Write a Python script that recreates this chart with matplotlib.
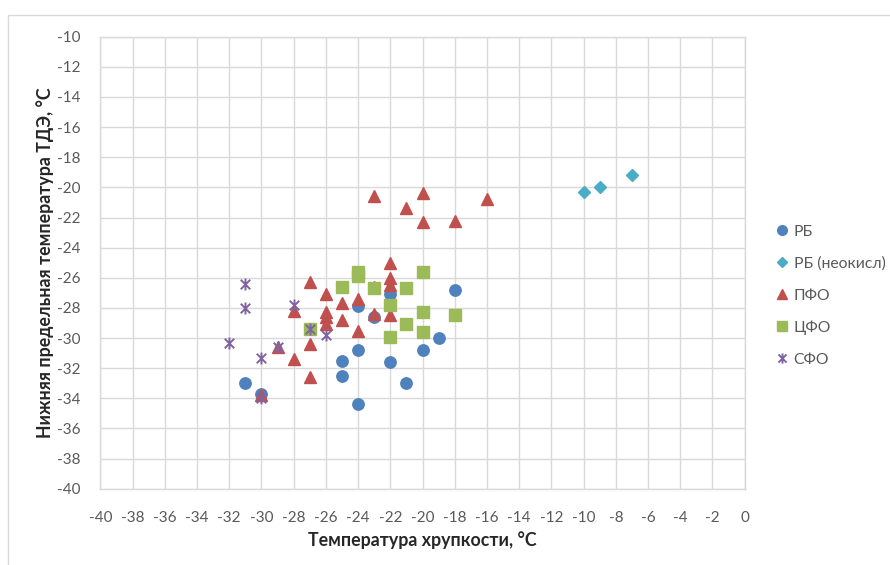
import matplotlib
matplotlib.use("Agg")
import matplotlib.pyplot as plt
from matplotlib.path import Path
from matplotlib.patches import Rectangle

plt.rcParams['font.family'] = ['Lato', 'Noto Sans', 'DejaVu Sans']
plt.rcParams['axes.unicode_minus'] = False

# РБ
rb_x = [-31, -30, -25, -25, -24, -24, -24, -23, -22, -22, -21, -20, -19, -18]
rb_y = [-33.0, -33.7, -31.5, -32.5, -27.9, -30.8, -34.4, -28.6, -27.1, -31.6, -33.0, -30.8, -30.0, -26.8]

# РБ (неокисл)
rbn_x = [-10, -9, -7]
rbn_y = [-20.3, -20.0, -19.2]

# ПФО
pfo_x = [-30, -29, -28, -28, -27, -27, -27, -26, -26, -26, -26, -25, -25, -24, -24,
         -23, -23, -22, -22, -22, -22, -23, -21, -20, -20, -18, -16]
pfo_y = [-33.8, -30.6, -28.2, -31.4, -26.3, -30.4, -32.6, -27.1, -28.3, -28.6, -29.1, -27.7, -28.8, -27.4, -29.5,
         -28.4, -26.6, -25.0, -26.0, -26.5, -28.5, -20.6, -21.4, -20.4, -22.3, -22.2, -20.8]

# ЦФО
cfo_x = [-27, -25, -24, -24, -23, -22, -22, -21, -21, -20, -20, -20, -18]
cfo_y = [-29.4, -26.6, -25.6, -25.9, -26.7, -27.8, -29.9, -26.7, -29.1, -25.6, -28.3, -29.6, -28.5]

# СФО
sfo_x = [-32, -31, -31, -30, -30, -29, -28, -27, -26]
sfo_y = [-30.3, -26.4, -28.0, -31.3, -34.0, -30.6, -27.8, -29.4, -29.8]

x_ticks = list(range(-40, 1, 2))
y_ticks = list(range(-40, -9, 2))

W, H = 890, 565
fig = plt.figure(figsize=(W / 100, H / 100), dpi=100)
ax = fig.add_axes([100.3 / W, 1 - 488.7 / H, (744.7 - 100.3) / W, (488.7 - 36.7) / H])

# chart frame
frame = Rectangle((8 / W, -0.1), 1.2, 1 - 15 / H + 0.1, transform=fig.transFigure,
                  fill=False, edgecolor='#d9d9d9', linewidth=1.0)
fig.patches.append(frame)

star = Path([(-1, -1), (1, 1), (-1, 1), (1, -1), (0, -1.25), (0, 1.25)],
            [Path.MOVETO, Path.LINETO, Path.MOVETO, Path.LINETO, Path.MOVETO, Path.LINETO])

ax.plot(rb_x, rb_y, ls='none', marker='o', ms=8.2, mfc='#4F81BD', mec='#4F81BD', label='РБ')
ax.plot(rbn_x, rbn_y, ls='none', marker='D', ms=6.0, mfc='#4BACC6', mec='#4BACC6', label='РБ (неокисл)')
ax.plot(pfo_x, pfo_y, ls='none', marker='^', ms=8.8, mfc='#C0504D', mec='#C0504D', label='ПФО')
ax.plot(cfo_x, cfo_y, ls='none', marker='s', ms=8.0, mfc='#9BBB59', mec='#9BBB59', label='ЦФО')
ax.plot(sfo_x, sfo_y, ls='none', marker=star, ms=8.6, mfc='none', mec='#8064A2', mew=1.4, label='СФО')

ax.set_xlim(-40, 0)
ax.set_ylim(-40, -10)
ax.set_xticks(x_ticks)
ax.set_yticks(y_ticks)
ax.grid(True, color='#d9d9d9', linewidth=1.0)
ax.set_axisbelow(True)
for s in ax.spines.values():
    s.set_color('#d9d9d9')
    s.set_linewidth(1.0)
ax.tick_params(length=0, labelsize=11, labelcolor='#595959')
ax.tick_params(axis='x', pad=16)
ax.tick_params(axis='y', pad=14)

fig.text(422 / W, 1 - 540 / H, 'Температура хрупкости, °С', fontsize=12.8, fontweight='bold',
         color='#262626', ha='center', va='center')
fig.text(45 / W, 1 - 263 / H, 'Нижняя предельная температура ТДЭ, °С', fontsize=12.8, fontweight='bold',
         color='#262626', ha='center', va='center', rotation=90)

leg = ax.legend(loc='upper left', bbox_to_anchor=(767 / W, 1 - 217 / H), bbox_transform=fig.transFigure,
                frameon=False, fontsize=11.3, numpoints=1, handlelength=0.9, handletextpad=0.3,
                labelspacing=1.13, borderpad=0, markerscale=0.85)
for t in leg.get_texts():
    t.set_color('#595959')

fig.savefig('out.png', dpi=100)
